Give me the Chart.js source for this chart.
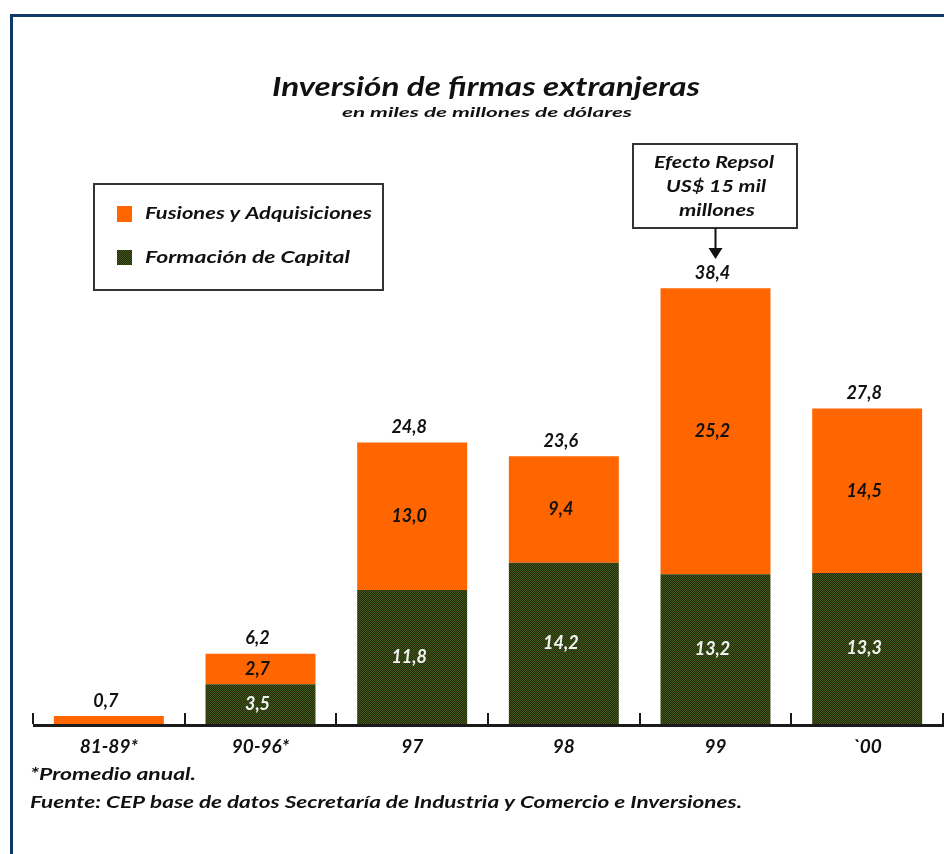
<!DOCTYPE html>
<html><head><meta charset="utf-8">
<script src="https://cdn.jsdelivr.net/npm/chart.js@4"></script>
<style>
html,body{margin:0;padding:0;background:#fff;overflow:hidden}
#wrap{position:relative;width:944px;height:854px;overflow:hidden}
#frame{position:absolute;left:10px;top:14px;width:1000px;height:1000px;border-left:3px solid #12386a;border-top:3px solid #12386a;box-sizing:border-box}
canvas{position:absolute;left:0;top:0}
</style></head><body>
<div id="wrap"><div id="frame"></div><canvas id="c" width="944" height="854"></canvas></div>
<script>
const categories = ['81-89*', '90-96*', '97', '98', '99', '`00'];
const fusiones = [0.7, 2.7, 13.0, 9.4, 25.2, 14.5];
const capital = [0, 3.5, 11.8, 14.2, 13.2, 13.3];
const totals = [0.7, 6.2, 24.8, 23.6, 38.4, 27.8];
const seriesNames = ['Fusiones y Adquisiciones', 'Formación de Capital'];

const FONT = 'Lato';
const ORANGE = '#ff6600';

function makeGreen() {
  const p = document.createElement('canvas');
  p.width = 2; p.height = 2;
  const g = p.getContext('2d');
  g.fillStyle = '#2a2a0b'; g.fillRect(0, 0, 2, 2);
  g.fillStyle = '#3b5a1c'; g.fillRect(0, 0, 1, 1); g.fillRect(1, 1, 1, 1);
  return document.getElementById('c').getContext('2d').createPattern(p, 'repeat');
}
const GREEN = makeGreen();

function fmt(v) { return v.toFixed(1).replace('.', ','); }

function txt(ctx, s, x, y, size, w, align, color) {
  ctx.save();
  ctx.font = `italic bold ${size}px ${FONT}`;
  ctx.fillStyle = color || '#111';
  ctx.textBaseline = 'middle';
  ctx.textAlign = align || 'center';
  const m = ctx.measureText(s).width;
  const sx = w ? w / m : 1;
  ctx.translate(x, y);
  ctx.scale(sx, 1);
  ctx.fillText(s, 0, 0);
  ctx.restore();
}

const deco = {
  id: 'deco',
  afterDatasetsDraw(chart) {
    const ctx = chart.ctx;
    const xs = chart.scales.x, ys = chart.scales.y;
    const y0 = ys.getPixelForValue(0);
    const step = xs.getPixelForValue(1) - xs.getPixelForValue(0);
    ctx.save();
    // axis line
    ctx.fillStyle = '#1a1a1a';
    ctx.fillRect(xs.left, y0, 944 - xs.left, 3);
    // ticks at category boundaries
    for (let i = 0; i <= categories.length; i++) {
      const bx = Math.round(xs.getPixelForValue(i) - step / 2);
      ctx.fillRect(bx - 1, y0 - 11, 2, 11);
    }
    // value labels
    const mc = chart.getDatasetMeta(0).data; // capital (bottom)
    const mf = chart.getDatasetMeta(1).data; // fusiones (top)
    for (let i = 0; i < categories.length; i++) {
      const top = Math.min(mf[i].y, mc[i].y);
      txt(ctx, fmt(totals[i]), mf[i].x - 3, top - 15, 18, null, 'center', '#111');
      if (i > 0) {
        if (fusiones[i] > 0) txt(ctx, fmt(fusiones[i]), mf[i].x - 3, (mf[i].y + mf[i].base) / 2, 18, null, 'center', '#111');
        if (capital[i] > 0) txt(ctx, fmt(capital[i]), mc[i].x - 3, (mc[i].y + mc[i].base) / 2, 18, null, 'center', '#f2f2f2');
      }
    }
    // title
    txt(ctx, 'Inversión de firmas extranjeras', 486, 87, 27, 428, 'center', '#111');
    txt(ctx, 'en miles de millones de dólares', 487, 112, 14, 290, 'center', '#111');
    // legend box
    ctx.strokeStyle = '#333'; ctx.lineWidth = 2;
    ctx.strokeRect(94, 184, 289, 106);
    ctx.fillStyle = ORANGE; ctx.fillRect(117, 206, 15, 16);
    ctx.fillStyle = GREEN; ctx.fillRect(117, 250, 15, 15);
    txt(ctx, seriesNames[0], 145, 214, 17, 227, 'left', '#111');
    txt(ctx, seriesNames[1], 145, 258, 17, 205, 'left', '#111');
    // annotation box
    ctx.strokeStyle = '#333'; ctx.lineWidth = 2;
    ctx.strokeRect(633, 144, 164, 84);
    txt(ctx, 'Efecto Repsol', 714, 163, 17, 120, 'center', '#111');
    txt(ctx, 'US$ 15 mil', 716, 187, 17, 100, 'center', '#111');
    txt(ctx, 'millones', 717, 211, 17, 76, 'center', '#111');
    // arrow
    const ax = mf[4].x;
    ctx.fillStyle = '#111';
    ctx.fillRect(ax - 1, 228, 2, 22);
    ctx.beginPath(); ctx.moveTo(ax - 7, 248); ctx.lineTo(ax + 7, 248); ctx.lineTo(ax, 259); ctx.closePath(); ctx.fill();
    // footnotes
    txt(ctx, '*Promedio anual.', 30, 775, 17, 166, 'left', '#111');
    txt(ctx, 'Fuente: CEP base de datos Secretaría de Industria y Comercio e Inversiones.', 30, 803, 17, 712, 'left', '#111');
    ctx.restore();
  }
};

new Chart(document.getElementById('c'), {
  type: 'bar',
  data: {
    labels: categories,
    datasets: [
      { label: seriesNames[1], data: capital, backgroundColor: GREEN, stack: 's' },
      { label: seriesNames[0], data: fusiones, backgroundColor: ORANGE, stack: 's' }
    ]
  },
  options: {
    responsive: false,
    animation: false,
    datasets: { bar: { categoryPercentage: 1, barPercentage: 0.725 } },
    layout: { padding: { left: 33, right: 1, top: 270, bottom: 100 } },
    plugins: { legend: { display: false }, title: { display: false }, tooltip: { enabled: false } },
    scales: {
      x: {
        stacked: true,
        afterFit: s => { s.height = 30; },
        grid: { display: false, drawTicks: false },
        border: { display: false },
        ticks: { color: '#111', padding: 11, font: { family: FONT, style: 'italic', weight: 'bold', size: 19 } }
      },
      y: { stacked: true, display: false, min: 0, max: 40 }
    }
  },
  plugins: [deco]
});
</script>
</body></html>
